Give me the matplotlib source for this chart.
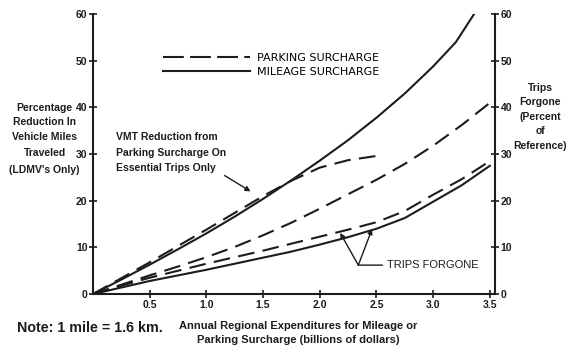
import matplotlib
matplotlib.use("Agg")
import matplotlib.pyplot as plt
from matplotlib.lines import Line2D

plt.rcParams["font.family"] = ["Liberation Sans", "DejaVu Sans"]

# Annual expenditures (billions of dollars)
x_step = [0, 0.25, 0.5, 0.75, 1.0, 1.25, 1.5, 1.75, 2.0, 2.25, 2.5, 2.75, 3.0, 3.25, 3.5]

# VMT reduction, mileage surcharge (solid, upper)
mile_x = [0, 0.25, 0.5, 0.75, 1.0, 1.25, 1.5, 1.75, 2.0, 2.25, 2.5, 2.75, 3.0, 3.2, 3.36]
mile_vmt = [0, 3.1, 6.3, 9.6, 13.0, 16.6, 20.4, 24.4, 28.6, 33.0, 37.8, 43.0, 48.8, 54.0, 60.0]

# VMT reduction, parking surcharge on essential trips only (dashed)
ess_x = [0, 0.25, 0.5, 0.75, 1.0, 1.25, 1.5, 1.75, 2.0, 2.25, 2.5]
ess_vmt = [0, 3.4, 6.8, 10.3, 13.8, 17.4, 21.0, 24.3, 27.1, 28.7, 29.6]

# VMT reduction, parking surcharge (dashed, middle)
park_vmt = [0, 2.0, 4.0, 5.9, 7.9, 10.1, 12.6, 15.3, 18.3, 21.4, 24.5, 27.9, 31.8, 36.2, 41.0]

# Trips forgone (right axis)
park_trips = [0, 1.8, 3.5, 5.0, 6.5, 7.9, 9.3, 10.8, 12.3, 13.8, 15.4, 17.8, 21.3, 24.6, 28.5]
mile_trips = [0, 1.4, 2.8, 4.0, 5.2, 6.5, 7.8, 9.1, 10.6, 12.2, 14.0, 16.3, 19.8, 23.3, 27.5]

x_ticks = [0.5, 1.0, 1.5, 2.0, 2.5, 3.0, 3.5]
y_ticks = [0, 10, 20, 30, 40, 50, 60]

left_label = ["Percentage", "Reduction In", "Vehicle Miles", "Traveled", "(LDMV's Only)"]
right_label = ["Trips", "Forgone", "(Percent", "of", "Reference)"]

INK = "#1c1c1c"
DASH = (8, 4)

fig = plt.figure(figsize=(5.81, 3.53), dpi=100)
ax = fig.add_axes([0.160, 0.167, 0.692, 0.793])

lw = 1.5
ax.plot(mile_x, mile_vmt, color=INK, lw=lw)
ax.plot(ess_x, ess_vmt, color=INK, lw=lw, dashes=DASH)
ax.plot(x_step, park_vmt, color=INK, lw=lw, dashes=DASH)
ax.plot(x_step, park_trips, color=INK, lw=lw, dashes=DASH)
ax.plot(x_step, mile_trips, color=INK, lw=lw)

ax.set_xlim(0, 3.545)
ax.set_ylim(0, 60)

for s in ["left", "bottom", "right"]:
    ax.spines[s].set_linewidth(1.5)
    ax.spines[s].set_color(INK)
ax.spines["top"].set_visible(False)

tick_font = dict(fontsize=7.5, fontweight="bold", color=INK)
ax.set_xticks(x_ticks)
ax.set_xticklabels([f"{v:.1f}" for v in x_ticks], **tick_font)
ax.set_yticks(y_ticks)
ax.set_yticklabels([str(v) for v in y_ticks], **tick_font)
ax.tick_params(axis="both", direction="inout", length=6, width=1.2, colors=INK, pad=1)
ax.tick_params(axis="y", right=True, labelright=True)

# legend
handles = [Line2D([], [], color=INK, lw=lw, dashes=(10, 3)),
           Line2D([], [], color=INK, lw=lw)]
ax.legend(handles, ["PARKING SURCHARGE", "MILEAGE SURCHARGE"], loc="upper left",
          bbox_to_anchor=(0.174, 0.862), frameon=False,
          prop=dict(family="DejaVu Sans", size=8),
          handlelength=7.8, handletextpad=0.7, labelspacing=0.4,
          borderpad=0, borderaxespad=0)

lab_font = dict(fontsize=7.5, fontweight="bold", color=INK, linespacing=1.65)

# axis titles, one line at a time so each sits clear of the tick labels
for line, yf in zip(left_label, [0.664, 0.614, 0.561, 0.503, 0.443]):
    ax.text(-0.12, yf, line, transform=ax.transAxes, ha="center", va="center", **lab_font)
for line, yf in zip(right_label, [0.736, 0.686, 0.632, 0.582, 0.529]):
    ax.text(1.113, yf, line, transform=ax.transAxes, ha="center", va="center", **lab_font)

ax.annotate("VMT Reduction from\nParking Surcharge On\nEssential Trips Only",
            xy=(1.39, 22.0), xytext=(0.2, 26.0), ha="left", va="bottom",
            arrowprops=dict(arrowstyle="-|>", color=INK, lw=1.0,
                            shrinkA=0, shrinkB=0, relpos=(0.9, 0.08)),
            **lab_font)

ax.annotate("TRIPS FORGONE", xy=(2.34, 6.2), xytext=(2.59, 6.2), ha="left", va="center",
            fontsize=8, color=INK,
            arrowprops=dict(arrowstyle="-", color=INK, lw=1.0, shrinkA=1, shrinkB=0))
for tip in [(2.18, 13.1), (2.46, 13.9)]:
    ax.annotate("", xy=tip, xytext=(2.34, 6.2),
                arrowprops=dict(arrowstyle="-|>", color=INK, lw=1.0,
                                shrinkA=0, shrinkB=0, mutation_scale=7))

fig.text(0.029, 0.071, "Note: 1 mile = 1.6 km.", ha="left", va="center",
         fontsize=10.3, fontweight="bold", color=INK)
fig.text(0.513, 0.056, "Annual Regional Expenditures for Mileage or\nParking Surcharge (billions of dollars)",
         ha="center", va="center", fontsize=8, fontweight="bold", color=INK, linespacing=1.45)

fig.savefig("out.png", dpi=100)
